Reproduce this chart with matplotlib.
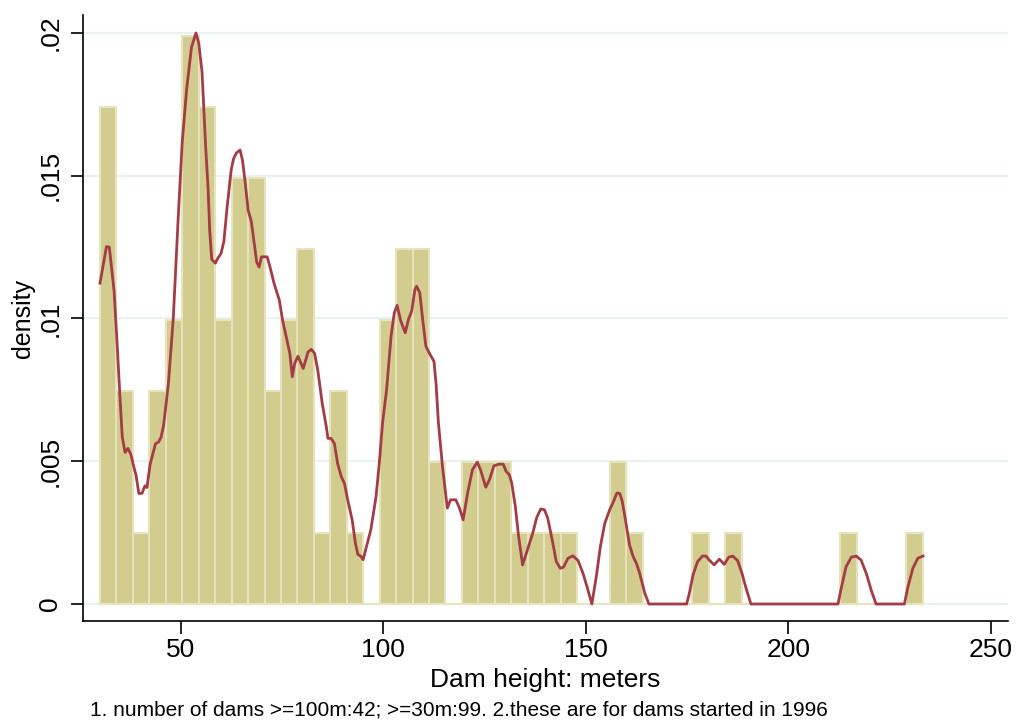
import numpy as np
import matplotlib
matplotlib.use("Agg")
import matplotlib.pyplot as plt

plt.rcParams["font.family"] = ["Liberation Sans", "DejaVu Sans"]

# histogram: 50 bins of dam heights starting at 30 m
BIN_START = 30.0
BIN_WIDTH = 4.064
counts = np.array([
    7, 3, 1, 3, 4, 8, 7, 4, 6, 6,
    3, 4, 5, 1, 3, 1, 0, 4, 5, 5,
    2, 0, 2, 2, 2, 1, 1, 1, 1, 0,
    0, 2, 1, 0, 0, 0, 1, 0, 1, 0,
    0, 0, 0, 0, 0, 1, 0, 0, 0, 1,
])

# kernel density curve
kde_x = [
    30.0, 31.6, 32.3, 33.5, 34.3, 34.9, 35.5, 36.2, 36.9, 37.6,
    38.4, 38.9, 39.6, 40.4, 41.1, 41.6, 42.4, 43.7, 44.5, 45.1,
    45.7, 46.9, 48.1, 49.3, 50.3, 51.4, 52.6, 53.7, 54.4, 55.2,
    56.1, 56.7, 57.1, 57.6, 58.5, 59.1, 59.9, 60.6, 61.4, 62.4,
    63.0, 63.7, 64.6, 65.2, 65.8, 66.6, 67.4, 68.0, 68.7, 69.3,
    69.9, 71.3, 72.0, 73.0, 74.3, 75.1, 76.1, 76.9, 77.5, 78.1,
    78.9, 80.2, 81.4, 82.2, 83.0, 83.8, 84.9, 85.9, 86.3, 87.1,
    87.9, 88.7, 89.6, 90.4, 91.2, 92.3, 93.1, 93.7, 94.5, 95.0,
    95.8, 96.9, 98.2, 99.0, 99.8, 100.8, 101.9, 102.7, 103.4, 104.3,
    105.4, 106.2, 107.0, 107.8, 108.2, 109.0, 109.7, 110.5, 111.3, 112.5,
    113.0, 113.6, 114.6, 115.8, 116.6, 117.9, 118.8, 119.7, 120.8, 122.0,
    123.2, 124.0, 125.3, 126.2, 127.3, 128.6, 129.6, 130.3, 131.1, 131.7,
    132.6, 133.4, 134.4, 135.6, 136.9, 137.9, 138.9, 139.8, 140.6, 141.7,
    142.7, 143.7, 144.5, 145.6, 146.8, 148.1, 149.3, 150.3, 151.5, 152.6,
    153.6, 154.7, 155.9, 156.7, 157.7, 158.4, 159.0, 159.8, 160.8, 161.7,
    162.5, 163.3, 164.6, 165.6, 170.0, 174.9, 175.5, 176.5, 177.6, 178.8,
    179.7, 180.5, 181.7, 183.0, 184.2, 185.3, 186.3, 187.5, 188.6, 189.6,
    190.8, 200.0, 212.3, 213.1, 214.3, 215.6, 216.8, 218.0, 219.3, 220.5,
    221.7, 225.0, 228.7, 229.6, 230.8, 232.0, 233.3,
]
kde_y = [
    .01124, .01252, .0125, .01094, .00893, .00732, .00585, .00531, .00545, .00525,
    .00478, .00451, .00387, .00388, .00414, .00408, .00491, .00561, .00568, .00585,
    .00625, .00772, .0100, .01348, .01616, .01803, .0195, .0200, .01964, .01864,
    .01602, .01455, .01308, .01207, .01194, .01211, .01228, .0127, .0139, .0152,
    .0156, .0158, .0159, .01554, .01484, .01379, .01338, .01274, .01198, .0118,
    .01216, .01216, .0118, .01123, .01064, .00994, .0093, .00877, .00796, .00843,
    .00868, .00825, .00883, .00892, .00878, .00819, .00702, .00621, .0058, .0058,
    .00562, .00492, .00446, .00422, .00364, .00294, .00212, .00174, .00166, .00155,
    .0020, .0026, .00377, .00494, .00634, .00751, .00938, .0102, .01046, .00991,
    .0095, .00997, .01026, .01102, .01113, .0109, .00997, .00903, .0088, .0085,
    .00774, .00634, .00482, .00336, .00365, .00365, .00336, .00295, .00388, .0047,
    .00497, .0047, .00409, .00435, .00484, .00490, .0049, .00465, .00453, .00424,
    .00342, .00237, .00137, .0019, .00248, .00304, .00333, .0033, .00301, .00225,
    .00149, .00125, .00129, .0016, .00169, .00152, .00108, .00061, .0, .00096,
    .00201, .00283, .0033, .00354, .00389, .00387, .0036, .00295, .00207, .00166,
    .00143, .00108, .00037, .0, .0, .0, .00032, .00102, .00148, .00168,
    .00168, .00154, .00137, .00157, .00139, .00164, .00168, .00152, .00107, .00055,
    .0, .0, .0, .00055, .00131, .00164, .00168, .00154, .00107, .00049,
    .0, .0, .0, .00061, .00125, .0016, .00168,
]

x_ticks = [50, 100, 150, 200, 250]
y_ticks = [0, 0.005, 0.01, 0.015, 0.02]
y_tick_labels = ["0", ".005", ".01", ".015", ".02"]

density = counts / (counts.sum() * BIN_WIDTH)
left_edges = BIN_START + BIN_WIDTH * np.arange(len(counts))

fig = plt.figure(figsize=(10.16, 7.26), dpi=100)
ax = fig.add_axes([83 / 1016, 1 - 621 / 726, 925 / 1016, 606 / 726])

for y in y_ticks:
    ax.axhline(y, color="#eaf1f1", lw=1.6, zorder=0)

ax.bar(left_edges, density, width=BIN_WIDTH, align="edge",
       color="#d3cc8f", edgecolor="#e7e3bc", linewidth=1.5, zorder=2)
ax.plot(kde_x, kde_y, color="#a33c46", lw=2.0, zorder=3)

ax.set_xlim(25.8, 254.3)
ax.set_ylim(-0.000595, 0.02063)
ax.set_xticks(x_ticks)
ax.set_yticks(y_ticks)
ax.set_yticklabels(y_tick_labels, rotation=90, va="center")
ax.tick_params(axis="both", direction="out", length=9, width=1.2,
               labelsize=19, colors="black")
ax.tick_params(axis="y", pad=6)
ax.spines["top"].set_visible(False)
ax.spines["right"].set_visible(False)
for s in ("left", "bottom"):
    ax.spines[s].set_linewidth(1.2)

ax.set_xlabel("Dam height: meters", fontsize=19, labelpad=4)
ax.set_ylabel("density", fontsize=18, labelpad=2)

fig.text(90 / 1016, 1 - 710 / 726,
         "1. number of dams >=100m:42; >=30m:99. 2.these are for dams started in 1996",
         fontsize=15, va="center", ha="left")

fig.savefig("out.png", dpi=100)
